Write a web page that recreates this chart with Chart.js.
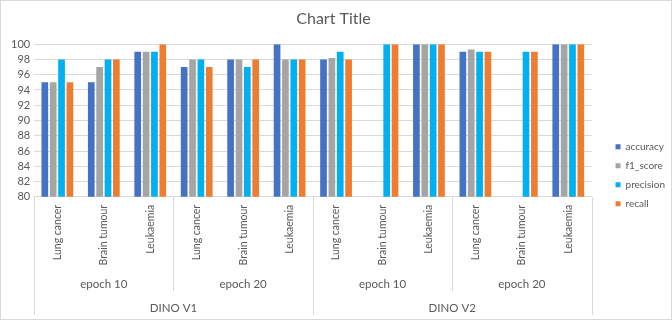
<!DOCTYPE html>
<html>
<head>
<meta charset="utf-8">
<script src="https://cdn.jsdelivr.net/npm/chart.js@4.4.1/dist/chart.umd.min.js"></script>
<style>
  html, body { margin: 0; padding: 0; background: #fff; }
  #wrap { width: 670px; height: 318px; border: 1px solid #d9d9d9; position: relative; }
</style>
</head>
<body>
<div id="wrap"><canvas id="chart"></canvas></div>
<script>
// カテゴリ（3段の軸ラベル）
const diseases = ['Lung cancer', 'Brain tumour', 'Leukaemia',
                  'Lung cancer', 'Brain tumour', 'Leukaemia',
                  'Lung cancer', 'Brain tumour', 'Leukaemia',
                  'Lung cancer', 'Brain tumour', 'Leukaemia'];
const epochs = ['epoch 10', 'epoch 20', 'epoch 10', 'epoch 20'];
const models = ['DINO V1', 'DINO V2'];

// 系列の値
const accuracy  = [95, 95, 99, 97, 98, 100, 98, null, 100, 99, null, 100];
const f1Score   = [95, 97, 99, 98, 98, 98, 98.2, null, 100, 99.3, null, 100];
const precision = [98, 98, 99, 98, 97, 98, 99, 100, 100, 99, 99, 100];
const recall    = [95, 98, 100, 97, 98, 98, 98, 100, 100, 99, 99, 100];

const yTicksMin = 80;
const yTicksMax = 100;
const yStep = 2;

const textColor = '#595959';
const lineColor = '#d9d9d9';
Chart.defaults.font.family = 'Lato, "Open Sans", sans-serif';
Chart.defaults.color = textColor;

// 区切り線（epoch / DINO の境界）をx軸の位置から描く
const separators = {
  id: 'separators',
  afterDraw(chart) {
    const x = chart.scales.x;
    const x2 = chart.scales.x2;
    const x3 = chart.scales.x3;
    const top = chart.chartArea.bottom;
    const ctx = chart.ctx;
    const per = diseases.length / epochs.length;
    const perModel = diseases.length / models.length;
    const edge = (i) => {
      if (i <= 0) return x.left;
      if (i >= diseases.length) return x.right;
      return (x.getPixelForValue(i - 1) + x.getPixelForValue(i)) / 2;
    };
    ctx.save();
    ctx.strokeStyle = lineColor;
    ctx.lineWidth = 1;
    for (let i = 0; i <= diseases.length; i += per) {
      const isModel = i % perModel === 0;
      const px = Math.round(edge(i)) + 0.5;
      ctx.beginPath();
      ctx.moveTo(px, top);
      ctx.lineTo(px, isModel ? x3.bottom : x2.bottom);
      ctx.stroke();
    }
    ctx.restore();
  }
};

// 凡例を少し右へ寄せる（Excel風の余白）
const legendShift = {
  id: 'legendShift',
  beforeDraw(chart) {
    const lg = chart.legend;
    const d = 15;
    lg.left += d;
    lg.right += d;
  }
};

new Chart(document.getElementById('chart'), {
  type: 'bar',
  data: {
    labels: diseases,
    datasets: [
      { label: 'accuracy', data: accuracy, backgroundColor: '#4472C4' },
      { label: 'f1_score', data: f1Score, backgroundColor: '#A5A5A5' },
      { label: 'precision', data: precision, backgroundColor: '#00B0F0' },
      { label: 'recall', data: recall, backgroundColor: '#ED7D31' }
    ]
  },
  options: {
    responsive: true,
    maintainAspectRatio: false,
    animation: false,
    datasets: { bar: { categoryPercentage: 0.72, barPercentage: 0.8 } },
    layout: { padding: { left: 6, right: 11, top: 0, bottom: 4 } },
    scales: {
      y: {
        min: yTicksMin,
        max: yTicksMax,
        ticks: { stepSize: yStep, autoSkip: false, font: { size: 11 }, color: textColor, padding: 4 },
        grid: { color: lineColor, drawTicks: false },
        border: { display: false }
      },
      // tickLength は目盛り線を描かず、ラベルの位置合わせに使う
      x: {
        weight: 0,
        grid: { display: false, tickLength: 4 },
        border: { color: lineColor },
        ticks: { minRotation: 90, maxRotation: 90, autoSkip: false, font: { size: 10.5 }, color: textColor, padding: 4 }
      },
      x2: {
        type: 'category',
        labels: epochs,
        position: 'bottom',
        weight: 1,
        offset: true,
        grid: { display: false, tickLength: 8 },
        border: { display: false },
        ticks: { font: { size: 11.5 }, color: textColor, padding: 0 }
      },
      x3: {
        type: 'category',
        labels: models,
        position: 'bottom',
        weight: 2,
        offset: true,
        grid: { display: false, tickLength: 10 },
        border: { display: false },
        ticks: { font: { size: 11.5 }, color: textColor, padding: 0 }
      }
    },
    plugins: {
      title: {
        display: true,
        text: 'Chart Title',
        color: textColor,
        font: { size: 16, weight: 'normal' },
        padding: { top: 8, bottom: 16 }
      },
      legend: {
        position: 'right',
        title: { display: true, text: '', padding: { top: 20, bottom: 0 } },
        labels: { boxWidth: 5, boxHeight: 5, font: { size: 10 }, color: textColor, padding: 9 }
      },
      tooltip: { enabled: false }
    }
  },
  plugins: [separators, legendShift]
});
</script>
</body>
</html>
